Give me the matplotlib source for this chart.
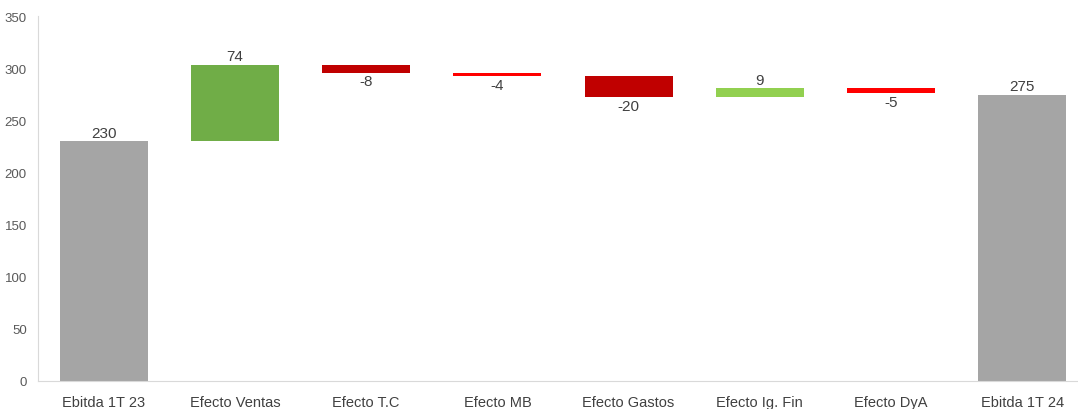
# Waterfall Ebitda 1T 23 -> 1T 24
import matplotlib.pyplot as plt
import numpy as np

# datos
categorias = ["Ebitda 1T 23", "Efecto Ventas", "Efecto T.C", "Efecto MB",
              "Efecto Gastos", "Efecto Ig. Fin", "Efecto DyA", "Ebitda 1T 24"]
ebitda_inicial = 229.8
efectos = [73.2, -7.4, -3.6, -19.7, 8.4, -4.5]
ebitda_final = 274.5
etiquetas = ["230", "74", "-8", "-4", "-20", "9", "-5", "275"]
colores = ["#A5A5A5", "#70AD47", "#C00000", "#FF0000", "#C00000", "#92D050", "#FF0000", "#A5A5A5"]

plt.rcParams['font.family'] = ['Liberation Sans Narrow', 'Liberation Sans', 'DejaVu Sans']

fig = plt.figure(figsize=(10.78, 4.10), dpi=100)
ax = fig.add_axes([38 / 1078, 28 / 410, 1050 / 1078, 365 / 410])

# bases y alturas de cada barra
bases = [0]
alturas = [ebitda_inicial]
acum = ebitda_inicial
for e in efectos:
    bases.append(acum if e > 0 else acum + e)
    alturas.append(abs(e))
    acum += e
bases.append(0)
alturas.append(ebitda_final)

x = np.arange(len(categorias))
ax.bar(x, alturas, bottom=bases, width=0.67, color=colores)

# etiquetas de valores
valores = [ebitda_inicial] + efectos + [ebitda_final]
for i, v in enumerate(valores):
    if v >= 0:
        ax.text(x[i], bases[i] + alturas[i] + 1.5, etiquetas[i], ha="center", va="bottom",
                fontsize=11, color="#404040")
    else:
        ax.text(x[i], bases[i] - 1.5, etiquetas[i], ha="center", va="top",
                fontsize=11, color="#404040")

ax.set_xlim(-0.5, 7.5)
ax.set_ylim(0, 350)
ax.set_yticks(range(0, 351, 50))
ax.set_xticks(x)
ax.set_xticklabels(categorias, fontsize=10.5, color="#404040")
ax.tick_params(axis="y", labelsize=9.5, labelcolor="#595959", length=0, pad=8)
ax.tick_params(axis="x", length=0, pad=10)

for s in ["top", "right"]:
    ax.spines[s].set_visible(False)
ax.spines["left"].set_color("#D9D9D9")
ax.spines["bottom"].set_color("#D9D9D9")

plt.savefig("out.png", dpi=100)
